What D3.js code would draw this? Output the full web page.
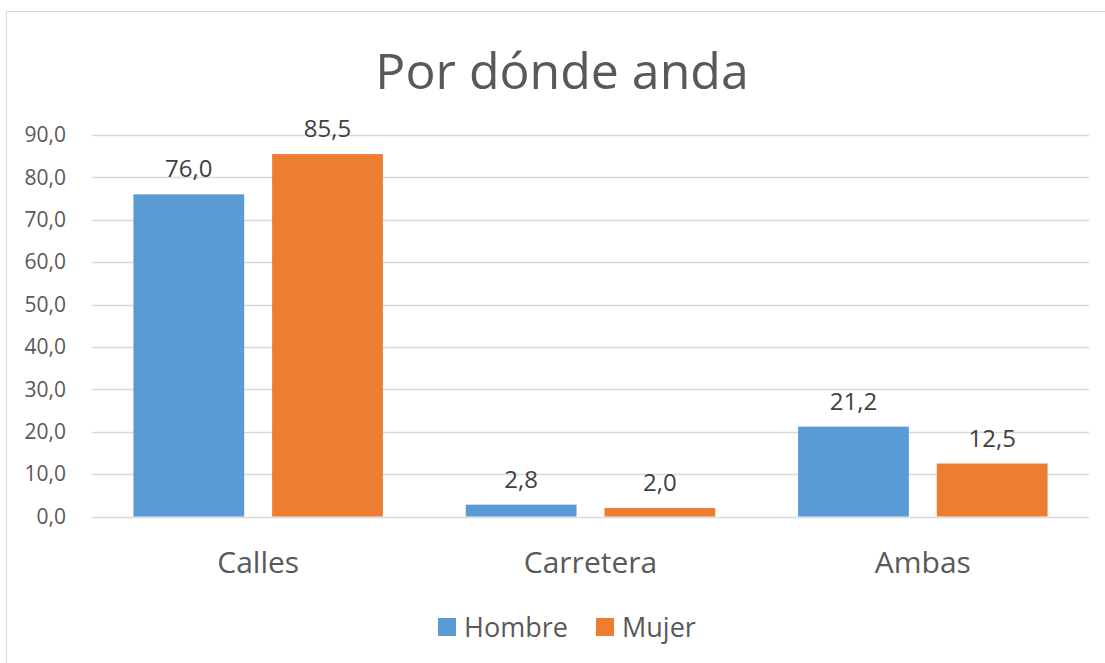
<!DOCTYPE html>
<html>
<head>
<meta charset="utf-8">
<script src="https://cdn.jsdelivr.net/npm/d3@7"></script>
<style>
  body { margin: 0; background: #fff; }
  svg { display: block; font-family: "Open Sans", "Noto Sans", sans-serif; }
</style>
</head>
<body>
<svg width="1105" height="663"></svg>
<script>
// data
var categories = ["Calles", "Carretera", "Ambas"];
var series = ["Hombre", "Mujer"];
var hombre = [76.0, 2.8, 21.2];
var mujer = [85.5, 2.0, 12.5];
var yTicks = [0, 10, 20, 30, 40, 50, 60, 70, 80, 90];
var colors = ["#5B9BD5", "#ED7D31"];

var values = [hombre, mujer];
var fmt = function(d) { return d3.format(".1f")(d).replace(".", ","); };

var svg = d3.select("svg");

// outer chart border (only left and top show in the frame)
svg.append("rect")
    .attr("x", 6.5).attr("y", 11.5)
    .attr("width", 1110).attr("height", 660)
    .attr("fill", "none").attr("stroke", "#D9D9D9");

var pLeft = 92, pRight = 1089, pTop = 135, pBottom = 516.5;

var x0 = d3.scaleBand().domain(categories).range([pLeft, pRight]);
var x1 = d3.scaleBand().domain(series)
    .range([0, x0.bandwidth()])
    .paddingInner(0.2014).paddingOuter(0.2986);
var y = d3.scaleLinear().domain([0, 90]).range([pBottom, pTop]);

// gridlines
svg.append("g").selectAll("line")
    .data(yTicks)
  .enter().append("line")
    .attr("x1", pLeft).attr("x2", pRight)
    .attr("y1", function(d) { return Math.round(y(d)) + 0.5; })
    .attr("y2", function(d) { return Math.round(y(d)) + 0.5; })
    .attr("stroke", "#D9D9D9").attr("stroke-width", 1.5);

// y axis labels
var yAxis = d3.axisLeft(y).tickValues(yTicks).tickFormat(fmt).tickSize(0).tickPadding(26);
var gy = svg.append("g").attr("transform", "translate(" + pLeft + ",0)").call(yAxis);
gy.select(".domain").remove();
gy.selectAll("text")
    .attr("fill", "#595959")
    .style("font-size", "21px")
    .style("font-family", "'Open Sans', sans-serif");

// category labels
var xAxis = d3.axisBottom(x0).tickSize(0).tickPadding(35);
var gx = svg.append("g").attr("transform", "translate(0," + pBottom + ")").call(xAxis);
gx.select(".domain").remove();
gx.selectAll("text")
    .attr("fill", "#595959")
    .style("font-size", "30px")
    .style("font-family", "'Open Sans', sans-serif");

// bars
var groups = svg.append("g").selectAll("g")
    .data(categories)
  .enter().append("g")
    .attr("transform", function(d) { return "translate(" + x0(d) + ",0)"; });

var cells = groups.selectAll("g")
    .data(function(d, i) {
      return series.map(function(s, j) { return { s: s, v: values[j][i], j: j }; });
    })
  .enter().append("g");

cells.append("rect")
    .attr("x", function(d) { return x1(d.s); })
    .attr("width", x1.bandwidth())
    .attr("y", function(d) { return y(d.v); })
    .attr("height", function(d) { return y(0) - y(d.v); })
    .attr("fill", function(d) { return colors[d.j]; });

cells.append("text")
    .attr("x", function(d) { return x1(d.s) + x1.bandwidth() / 2; })
    .attr("y", function(d) { return y(d.v) - 17; })
    .attr("text-anchor", "middle")
    .attr("fill", "#404040")
    .style("font-size", "24px")
    .text(function(d) { return fmt(d.v); });

// title
svg.append("text")
    .attr("x", 562).attr("y", 89)
    .attr("text-anchor", "middle")
    .attr("fill", "#595959")
    .style("font-size", "50px")
    .text("Por dónde anda");

// legend
var legX = [438, 596];
var leg = svg.append("g").selectAll("g")
    .data(series)
  .enter().append("g")
    .attr("transform", function(d, i) { return "translate(" + legX[i] + ",618)"; });
leg.append("rect")
    .attr("width", 18).attr("height", 18)
    .attr("fill", function(d, i) { return colors[i]; });
leg.append("text")
    .attr("x", 26).attr("y", 19)
    .attr("fill", "#595959")
    .style("font-size", "27px")
    .text(function(d) { return d; });
</script>
</body>
</html>
